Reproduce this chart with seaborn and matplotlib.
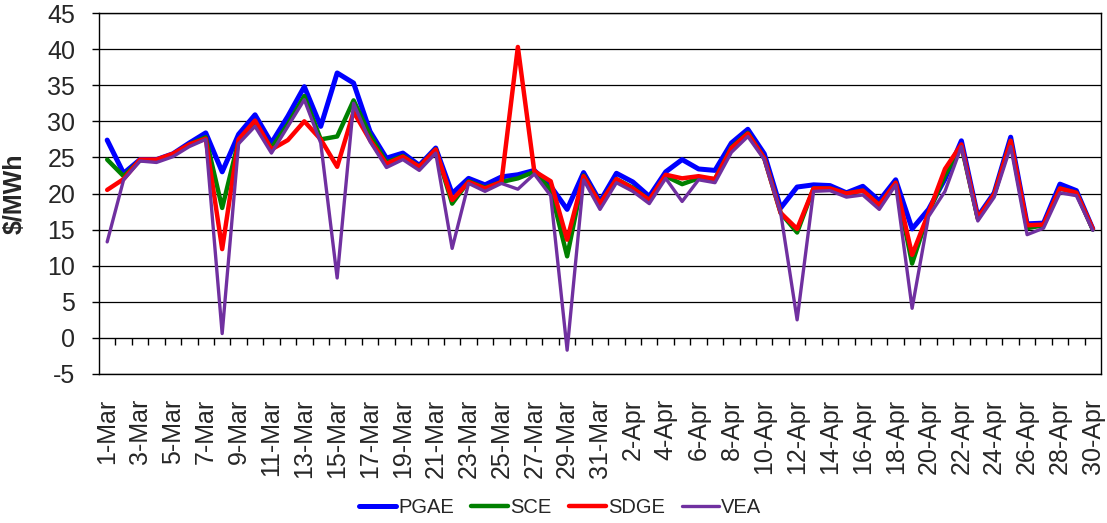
import numpy as np
import pandas as pd
import matplotlib
matplotlib.use("Agg")
import matplotlib.pyplot as plt
import seaborn as sns

# day labels, 1-Mar .. 30-Apr
days = [f"{d}-Mar" for d in range(1, 32)] + [f"{d}-Apr" for d in range(1, 31)]

utilities = ["PGAE", "SCE", "SDGE", "VEA"]

pgae = [27.4, 22.8, 24.7, 24.7, 25.5, 27.0, 28.4, 23.0, 28.2, 30.9,
        27.0, 30.7, 34.8, 29.3, 36.7, 35.3, 28.6, 24.9, 25.6, 23.9,
        26.3, 20.0, 22.1, 21.2, 22.3, 22.6, 23.2, 21.0, 17.8, 22.9,
        18.9, 22.8, 21.6, 19.6, 23.0, 24.7, 23.4, 23.2, 27.0, 28.9,
        25.5, 18.0, 20.9, 21.2, 21.1, 20.1, 21.0, 19.0, 21.9, 15.1,
        17.8, 22.0, 27.3, 16.8, 20.1, 27.8, 15.8, 15.9, 21.3, 20.4,
        15.1]

sce = [24.7, 22.4, 24.6, 24.6, 25.4, 26.8, 27.8, 18.0, 27.3, 29.8,
       26.3, 29.6, 33.5, 27.5, 27.9, 32.9, 28.1, 24.3, 25.2, 23.7,
       26.1, 18.6, 21.7, 20.8, 21.6, 22.1, 23.0, 20.5, 11.3, 22.5,
       18.6, 22.0, 20.8, 19.1, 22.4, 21.3, 22.1, 22.0, 26.4, 28.4,
       24.9, 17.3, 14.6, 20.7, 20.7, 20.0, 20.4, 18.4, 21.5, 10.3,
       17.3, 22.5, 26.6, 16.5, 19.9, 27.3, 15.2, 15.6, 20.7, 20.1,
       15.0]

sdge = [20.5, 22.0, 24.7, 24.7, 25.5, 26.8, 27.6, 12.3, 27.5, 30.1,
        26.1, 27.4, 30.0, 27.5, 23.7, 31.3, 27.4, 24.1, 25.1, 23.7,
        26.1, 19.1, 21.6, 20.7, 21.6, 40.3, 23.1, 21.7, 13.6, 22.4,
        18.6, 22.0, 20.7, 19.1, 22.6, 22.1, 22.4, 22.0, 26.3, 28.3,
        24.9, 17.3, 15.1, 20.7, 20.7, 20.0, 20.4, 18.4, 21.5, 11.5,
        17.3, 23.4, 26.8, 16.6, 19.9, 27.3, 15.6, 15.7, 20.7, 20.1,
        15.1]

vea = [13.3, 21.9, 24.5, 24.3, 25.1, 26.5, 27.5, 0.6, 26.9, 29.3,
       25.6, 29.3, 33.0, 27.0, 8.3, 32.5, 27.2, 23.6, 24.7, 23.2,
       25.6, 12.4, 21.4, 20.3, 21.4, 20.6, 22.7, 19.7, -1.7, 21.9,
       17.8, 21.5, 20.3, 18.6, 22.1, 18.9, 21.9, 21.5, 25.7, 27.9,
       24.7, 17.3, 2.5, 20.3, 20.4, 19.5, 19.8, 17.8, 21.2, 4.1,
       16.8, 20.3, 26.5, 16.2, 19.5, 26.5, 14.3, 15.2, 20.1, 19.7,
       14.9]

colors = {"PGAE": "#0000FF", "SCE": "#008000", "SDGE": "#FF0000", "VEA": "#7030A0"}
widths = {"PGAE": 3.6, "SCE": 3.2, "SDGE": 3.2, "VEA": 2.4}

frames = []
for name, vals in zip(utilities, [pgae, sce, sdge, vea]):
    frames.append(pd.DataFrame({"pos": np.arange(len(days)), "price": vals, "utility": name}))
df = pd.concat(frames, ignore_index=True)

sns.set_style("white")
plt.rcParams["font.family"] = ["Liberation Sans", "DejaVu Sans"]
plt.rcParams["axes.unicode_minus"] = False

fig = plt.figure(figsize=(11.07, 5.23), dpi=100)
ax = fig.add_axes([0.0894, 0.2849, 0.9052, 0.6902])

sns.lineplot(data=df, x="pos", y="price", hue="utility", size="utility",
             hue_order=utilities, size_order=utilities,
             palette=colors, sizes=widths, sort=False, legend=False, ax=ax)
for line in ax.lines:
    line.set_solid_joinstyle("round")
    line.set_solid_capstyle("round")

ax.set_xlim(-0.5, len(days) - 0.5)
ax.set_ylim(-5, 45)
ax.set_yticks(np.arange(-5, 46, 5))
ax.yaxis.grid(True, color="black", linewidth=0.9)
ax.xaxis.grid(False)

ax.set_xticks(np.arange(0, len(days), 2))
ax.set_xticklabels(days[::2], rotation=90)
ax.tick_params(axis="x", length=0, pad=18, labelsize=18)
ax.tick_params(axis="y", length=5, width=1, direction="out", pad=12,
               labelsize=18, left=True, color="black")
for sp in ax.spines.values():
    sp.set_color("black")
    sp.set_linewidth(1)

# category-boundary ticks hanging from the zero line
secax = ax.secondary_xaxis(0.1)
secax.set_xticks(np.arange(len(days) - 1) + 0.5)
secax.set_xticklabels([])
secax.tick_params(axis="x", length=5, width=1, direction="out", color="black")
secax.spines["bottom"].set_color("black")

ax.set_xlabel("")
ax.set_ylabel("$/MWh", fontsize=18, fontweight="bold")
ax.yaxis.set_label_coords(-0.072, 0.5)

fig.legend(ax.lines[:4], utilities, loc="center", bbox_to_anchor=(0.506, 0.029),
           ncol=4, frameon=False, fontsize=14.5, handlelength=1.85,
           handletextpad=0.1, columnspacing=0.85)

fig.savefig("out.png", dpi=100)
